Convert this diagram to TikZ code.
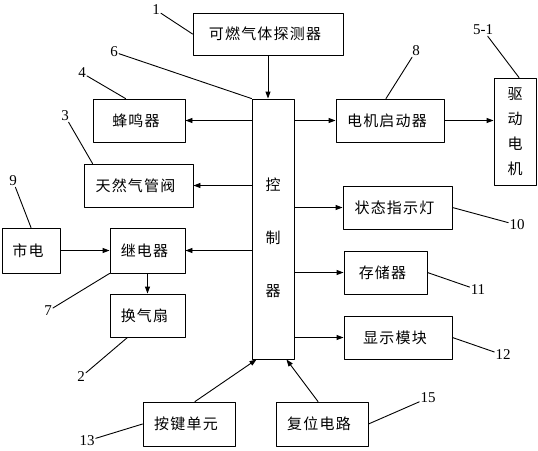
\documentclass[tikz,border=0pt]{standalone}
\usepackage{fontspec}
\setmainfont{Liberation Serif}
\newfontfamily\cjk[LetterSpace=8]{Noto Sans CJK SC}
\usetikzlibrary{arrows.meta,calc,positioning}

\begin{document}
\begin{tikzpicture}[x=1pt,y=-1pt,line cap=round,line join=round,>={Triangle[length=7pt,width=5pt]},
  blk/.style={draw,line width=0.9pt,inner sep=0pt,font=\fontsize{15}{18}\selectfont\cjk,execute at end node={\hspace{6pt}}},
  lbl/.style={inner sep=1pt,font=\fontsize{15}{18}\selectfont},
  arr/.style={->,line width=0.9pt},
  lead/.style={line width=0.9pt}]
\useasboundingbox (0,0) rectangle (538,450);
% blocks
\node[blk,minimum width=150pt,minimum height=42pt] (det) at (268,34) {可燃气体探测器};
\node[draw,line width=0.9pt,minimum width=42pt,minimum height=260pt] (ctl) at (273,229) {};
\node[align=center,font=\fontsize{15}{18}\selectfont\cjk] (ctltxt) at (273,238) {控\\[35pt]制\\[35pt]器};
\node[draw,line width=0.9pt,minimum width=42pt,minimum height=107pt,align=center,font=\fontsize{15}{18}\selectfont\cjk] (mot) at (515,131.5) {驱\\[7pt]动\\[7pt]电\\[7pt]机};
\node[blk,minimum width=92pt,minimum height=43pt] (buz) at (139,120.5) {蜂鸣器};
\node[blk,minimum width=109pt,minimum height=43pt] (valve) at (138.5,185.5) {天然气管阀};
\node[blk,minimum width=108pt,minimum height=43pt] (start) at (390,120.5) {电机启动器};
\node[blk,minimum width=109pt,minimum height=43pt] (lamp) at (397.5,207.5) {状态指示灯};
\node[blk,minimum width=83pt,minimum height=43pt] (mem) at (385.5,272.5) {存储器\hspace{10pt}};
\node[blk,minimum width=108pt,minimum height=43pt] (disp) at (398,337.5) {显示模块\hspace{18pt}};
\node[blk,minimum width=58pt,minimum height=45pt] (grid) at (31,250.5) {市电};
\node[blk,minimum width=75pt,minimum height=45pt] (relay) at (147.5,250.5) {继电器};
\node[blk,minimum width=75pt,minimum height=43pt] (fan) at (147.5,315.5) {换气扇};
\node[blk,minimum width=92pt,minimum height=44pt] (key) at (189,424) {按键单元};
\node[blk,minimum width=92pt,minimum height=44pt] (reset) at (322,424) {复位电路};
\draw[arr] (det) -- (det |- ctl.north);
\draw[arr] (ctl.west |- buz) -- (buz);
\draw[arr] (ctl.west |- valve) -- (valve);
\draw[arr] (ctl.west |- relay) -- (relay);
\draw[arr] (grid) -- (relay);
\draw[arr] (relay) -- (fan);
\draw[arr] (ctl.east |- start) -- (start);
\draw[arr] (start.east) -- (start.east -| mot.west);
\draw[arr] (ctl.east |- lamp) -- (lamp);
\draw[arr] (ctl.east |- mem) -- (mem);
\draw[arr] (ctl.east |- disp) -- (disp);
\draw[arr] ([xshift=6pt]key.north) -- ([xshift=5pt]ctl.south west);
\draw[arr] ([xshift=-4pt]reset.north) -- ([xshift=-8pt]ctl.south east);
% reference numbers
\node[lbl] (n1) at (156,10) {1};
\node[lbl] (n6) at (114,52) {6};
\node[lbl] (n4) at (82,73) {4};
\node[lbl] (n3) at (65,116) {3};
\node[lbl] (n9) at (13,181) {9};
\node[lbl] (n8) at (416,51) {8};
\node[lbl] (n51) at (483,30) {5-1};
\node[lbl] (n10) at (517,225) {10};
\node[lbl] (n11) at (478,290) {11};
\node[lbl] (n12) at (503,355) {12};
\node[lbl] (n15) at (428,398) {15};
\node[lbl] (n13) at (87,441) {13};
\node[lbl] (n7) at (48,311) {7};
\node[lbl] (n2) at (81,377) {2};
\draw[lead] (n1) -- (det.west);
\draw[lead] (n6) -- (ctl.north west);
\draw[lead] (n4) -- ([xshift=33pt]buz.north west);
\draw[lead] (n3) -- ([xshift=9pt]valve.north west);
\draw[lead] (n9) -- (grid.north);
\draw[lead] (n8) -- ([xshift=-4pt]start.north);
\draw[lead] (n51) -- ([xshift=4pt]mot.north);
\draw[lead] (lamp.east) -- (n10);
\draw[lead] (mem.east) -- (n11);
\draw[lead] (disp.east) -- (n12);
\draw[lead] (reset.east) -- (n15);
\draw[lead] (key.west) -- (n13);
\draw[lead] (relay.south west) -- (n7);
\draw[lead] ([xshift=-20pt]fan.south) -- (n2);
\end{tikzpicture}
\end{document}
